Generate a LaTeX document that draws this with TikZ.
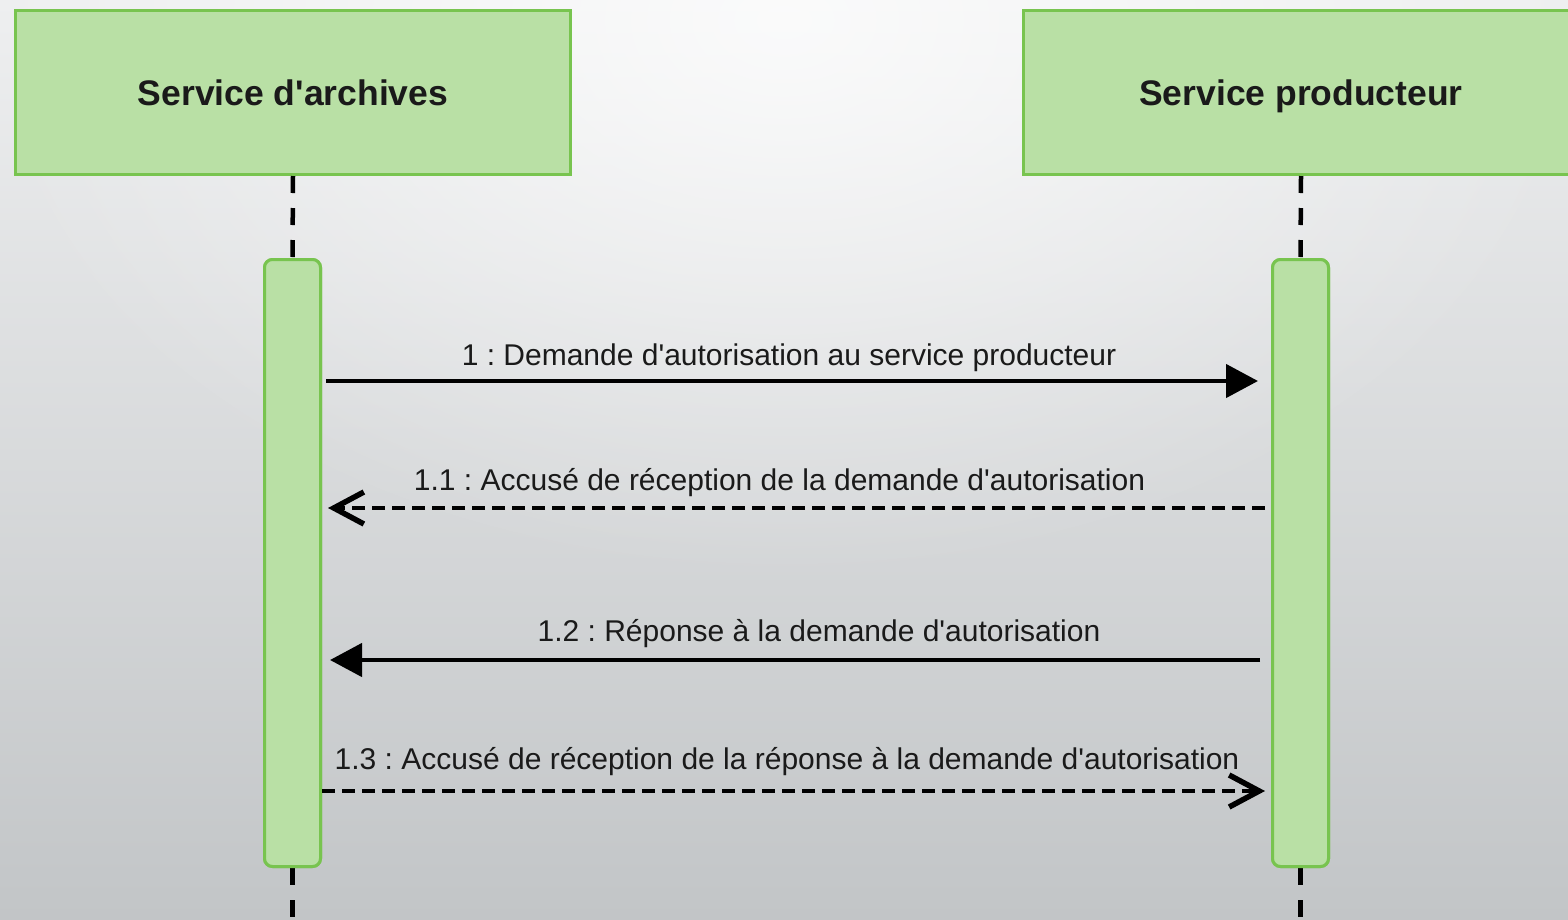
\documentclass[tikz,border=0pt]{standalone}
\usepackage{fontspec}
\newfontfamily\lsans{Liberation Sans}
\usetikzlibrary{arrows.meta,fadings}
\definecolor{bgtop}{HTML}{EEEFF0}
\definecolor{bgmid}{HTML}{DCDDDF}
\definecolor{bgbot}{HTML}{C2C5C7}
\definecolor{actfill}{HTML}{B9E0A5}
\definecolor{actdraw}{HTML}{78C44F}
\definecolor{txt}{HTML}{1A1A1A}
\tikzfading[name=glow, inner color=transparent!0, outer color=transparent!100]
\tikzset{
  header/.style={draw=actdraw, fill=actfill, line width=3pt, minimum width=555pt,
    minimum height=164pt, inner sep=0pt, text=txt, text height=25pt, text depth=0pt,
    font=\lsans\bfseries\fontsize{35.5}{40}\selectfont},
  actbox/.style={draw=actdraw, fill=actfill, line width=3pt, rounded corners=8pt,
    minimum width=56pt, minimum height=607pt, inner sep=0pt},
  life/.style={line width=4.5pt, dash pattern=on 17pt off 15pt},
  msg/.style={line width=4.5pt},
  reply/.style={line width=4.5pt, dash pattern=on 13pt off 7pt},
  filledtip/.style={-{Triangle[length=32pt,width=33pt]}},
  opentip/.style={-{Straight Barb[length=30pt,width=32pt,line width=5.5pt]}},
  lbl/.style={inner sep=0pt, anchor=base, text=txt,
    font=\lsans\frenchspacing\fontsize{30}{36}\selectfont}
}
\begin{document}
\begin{tikzpicture}[x=1pt,y=-1pt]
\useasboundingbox (0,0) rectangle (1568,919);
\clip (0,0) rectangle (1568,919);
% background
\shade[top color=bgtop, middle color=bgmid, bottom color=bgbot] (0,0) rectangle (1568,919);
\fill[white, fill opacity=0.75, path fading=glow] (784,20) ellipse (820 and 560);

% headers
\node[header] (hL) at (293,92.5) {Service d'archives};
\node[header] (hR) at (1301,92.5) {Service producteur};

% activation boxes
\node[actbox] (aL) at (292.5,563) {};
\node[actbox] (aR) at (1300.5,563) {};

% lifelines
\coordinate (bot) at (0,925);
\draw[life] (hL.south) -- (aL.north);
\draw[life] (hR.south) -- (aR.north);
\draw[life] (aL.south) -- (aL.south |- bot);
\draw[life] (aR.south) -- (aR.south |- bot);
% redraw boxes over lifelines
\node[actbox] at (aL) {};
\node[actbox] at (aR) {};

% message levels
\coordinate (y1) at (0,381);
\coordinate (y2) at (0,508);
\coordinate (y3) at (0,660);
\coordinate (y4) at (0,791);

\draw[msg, filledtip, shorten <=4pt, shorten >=13pt] (aL.east |- y1) -- (aR.west |- y1);
\draw[reply, opentip, shorten <=6pt, shorten >=6pt] (aR.west |- y2) -- (aL.east |- y2);
\draw[msg, filledtip, shorten <=11pt, shorten >=8pt] (aR.west |- y3) -- (aL.east |- y3);
\draw[reply, opentip, shorten <=0pt, shorten >=6pt] (aL.east |- y4) -- (aR.west |- y4);

% labels
\node[lbl] (l1) at (789,365) {1 : Demande d'autorisation au service producteur};
\node[lbl] (l2) at (779.5,490) {1.1 : Accusé de réception de la demande d'autorisation};
\node[lbl] (l3) at (819,641) {1.2 : Réponse à la demande d'autorisation};
\node[lbl] (l4) at (787,769) {1.3 : Accusé de réception de la réponse à la demande d'autorisation};
\end{tikzpicture}
\end{document}
